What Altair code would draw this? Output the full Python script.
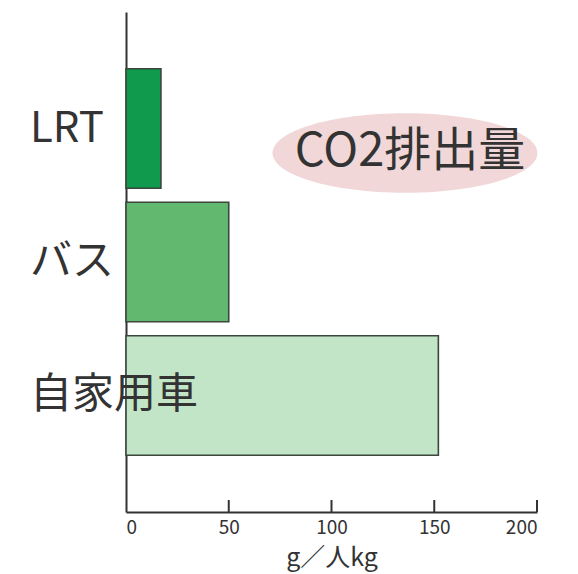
import altair as alt
import pandas as pd

categories = ["LRT", "バス", "自家用車"]
values = [17, 50, 152]
colors = ["#0f9a4d", "#62b86f", "#c3e5c7"]
tick_values = [50, 100, 150, 200]
axis_title = "g／人kg"
badge_text = "CO2排出量"

df = pd.DataFrame({"mode": categories, "value": values})
ticks_df = pd.DataFrame({"t": tick_values})
badge_df = pd.DataFrame({"label": [badge_text]})

x_scale = alt.Scale(domain=[0, 200], nice=False, zero=True)
y_scale = alt.Scale(domain=categories, paddingInner=0.104, paddingOuter=0.425)

bars = alt.Chart(df).mark_bar(stroke="#3b463d", strokeWidth=1.6).encode(
    x=alt.X("value:Q", scale=x_scale,
            axis=alt.Axis(values=[0, 50, 100, 150, 200], title=axis_title,
                          tickSize=0, labelPadding=6, labelFontSize=19,
                          labelFont="Noto Sans CJK JP", labelColor="#333333",
                          titleFont="Noto Sans CJK JP", titleFontSize=25,
                          titleFontWeight="normal", titleColor="#333333",
                          titlePadding=8, grid=False, domainColor="#333333",
                          domainWidth=2)),
    y=alt.Y("mode:N", scale=y_scale, sort=categories,
            axis=alt.Axis(labels=False, ticks=False, title=None, grid=False,
                          domainColor="#333333", domainWidth=2)),
    color=alt.Color("mode:N", scale=alt.Scale(domain=categories, range=colors),
                    legend=None),
)

tick_marks = alt.Chart(ticks_df).mark_rule(color="#333333", strokeWidth=2).encode(
    x=alt.X("t:Q", scale=x_scale),
    y=alt.value(488),
    y2=alt.value(500),
)

labels = alt.Chart(df).mark_text(
    align="left", baseline="middle", fontSize=42, font="Noto Sans CJK JP",
    color="#333333", dx=0
).encode(
    x=alt.value(-96),
    y=alt.Y("mode:N", scale=y_scale, sort=categories),
    text="mode:N",
)

ellipse = alt.Chart(badge_df).mark_point(
    shape="M-1,0A1,0.3,0,1,0,1,0A1,0.3,0,1,0,-1,0Z",
    filled=True, color="#f0d3d3", opacity=0.9, size=70225,
).encode(x=alt.value(279), y=alt.value(141))

badge = alt.Chart(badge_df).mark_text(
    align="center", baseline="middle", fontSize=47, font="Noto Sans CJK JP",
    color="#333333",
).encode(x=alt.value(284), y=alt.value(140), text="label:N")

chart = alt.layer(bars, tick_marks, ellipse, badge, labels).properties(
    width=411, height=500,
    autosize=alt.AutoSizeParams(type="none"),
    padding={"left": 118, "top": 4, "right": 30, "bottom": 62},
    background="white",
).configure_view(stroke=None)

chart.save("out.html", embed_options={"renderer": "svg", "actions": False})
